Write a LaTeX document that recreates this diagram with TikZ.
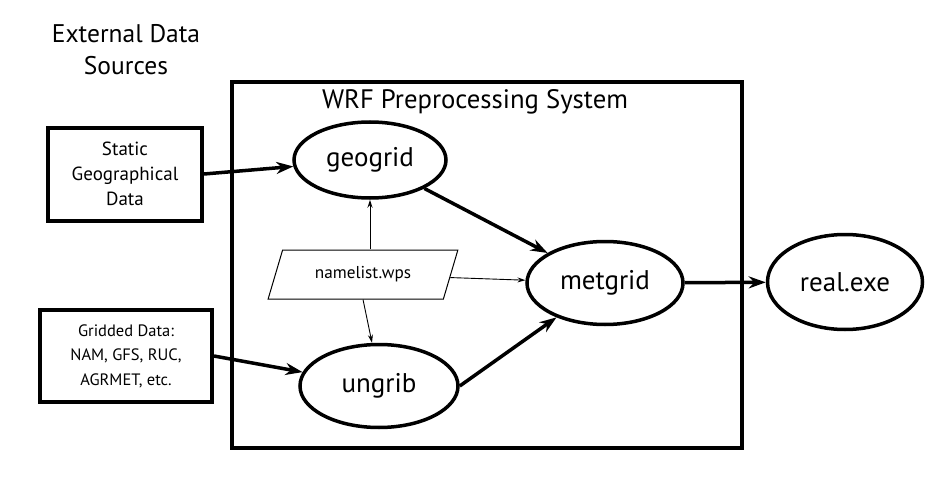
\documentclass[tikz,border=0pt]{standalone}
\usepackage{fontspec}
\setmainfont{PT Sans}
\usetikzlibrary{shapes.geometric,arrows.meta}
\begin{document}
\begin{tikzpicture}[x=1pt,y=-1pt,
  ell/.style={draw,ellipse,line width=3.5pt,inner sep=0pt,font=\fontsize{27}{30}\selectfont},
  srcbox/.style={draw,rectangle,line width=4pt,inner sep=0pt,align=center},
  thick arrow/.style={line width=3.5pt,-{Stealth[length=17pt,width=12pt]}},
  thin arrow/.style={line width=0.9pt,-{Stealth[length=8pt,width=5pt]}}]
\useasboundingbox (0,0) rectangle (938,503);
\node[draw,line width=4pt,minimum width=510pt,minimum height=366pt,inner sep=0pt] (wps) at (487,265) {};
\node[font=\fontsize{26.7}{30}\selectfont] (title) at (475,102) {WRF Preprocessing System};
\node[align=center,font=\fontsize{25.5}{32}\selectfont] (ext) at (126,50) {External Data\\Sources};
\node[srcbox,minimum width=154pt,minimum height=93pt,font=\fontsize{19}{25}\selectfont] (sta) at (125,174) {Static\\Geographical\\Data};
\node[srcbox,minimum width=172pt,minimum height=92pt,font=\fontsize{16.5}{24.5}\selectfont] (grd) at (126,356) {Gridded Data:\\NAM, GFS, RUC,\\AGRMET, etc.};
\node[ell,minimum width=152pt,minimum height=76pt] (geo) at (370,160) {geogrid};
\node[ell,minimum width=158pt,minimum height=83pt] (ung) at (379,386) {ungrib};
\node[ell,minimum width=156pt,minimum height=83pt] (met) at (605,283) {metgrid};
\node[ell,minimum width=155pt,minimum height=95pt] (real) at (845,282) {real.exe};
\node[draw,line width=1pt,trapezium,trapezium left angle=61,trapezium right angle=119,trapezium stretches=true,minimum width=190pt,minimum height=49pt,inner sep=0pt,font=\fontsize{17.2}{20}\selectfont] (nl) at (363,274.5) {namelist.wps};
\draw[thin arrow] (nl.north -| geo.south) -- (geo.south);
\draw[thin arrow] (nl.south) -- ([xshift=-7pt]ung.north);
\draw[thin arrow] (nl) -- (met);
\draw[thick arrow] (sta.east) -- (geo);
\draw[thick arrow] (grd.east) -- (ung);
\draw[thick arrow] (geo) -- (met);
\draw[thick arrow] (ung.east) -- (met);
\draw[thick arrow] (met) -- (real);
\end{tikzpicture}
\end{document}
